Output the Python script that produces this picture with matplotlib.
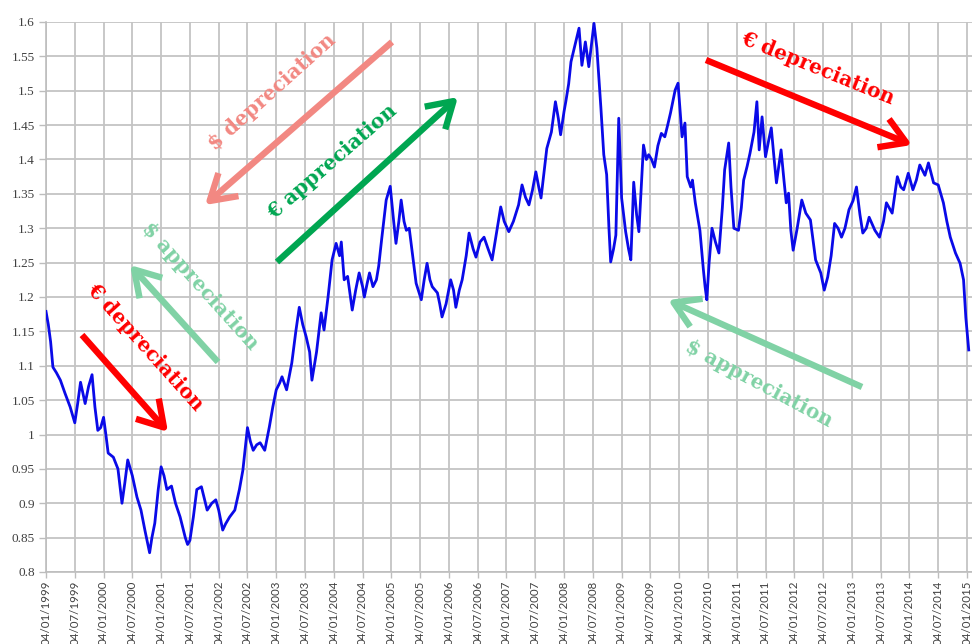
import numpy as np
import matplotlib
matplotlib.use("Agg")
import matplotlib.pyplot as plt

# ---- data (decimal years, EUR/USD) ----
dates = [
    1999.00, 1999.04, 1999.08, 1999.12, 1999.18, 1999.25, 1999.33, 1999.42, 1999.50, 1999.55,
    1999.60, 1999.68, 1999.74, 1999.80, 1999.85, 1999.90, 1999.95, 2000.00, 2000.04, 2000.08,
    2000.17, 2000.25, 2000.32, 2000.37, 2000.42, 2000.50, 2000.58, 2000.65, 2000.72, 2000.80,
    2000.84, 2000.89, 2000.95, 2001.00, 2001.05, 2001.10, 2001.18, 2001.25, 2001.33, 2001.42,
    2001.46, 2001.50, 2001.56, 2001.62, 2001.70, 2001.80, 2001.88, 2001.95, 2002.00, 2002.07,
    2002.12, 2002.19, 2002.28, 2002.36, 2002.42, 2002.50, 2002.55, 2002.60, 2002.66, 2002.72,
    2002.80, 2002.88, 2002.94, 2003.00, 2003.06, 2003.10, 2003.18, 2003.27, 2003.34, 2003.40,
    2003.46, 2003.52, 2003.58, 2003.62, 2003.70, 2003.78, 2003.83, 2003.90, 2003.97, 2004.04,
    2004.10, 2004.13, 2004.18, 2004.24, 2004.32, 2004.38, 2004.44, 2004.50, 2004.53, 2004.58,
    2004.62, 2004.68, 2004.74, 2004.78, 2004.83, 2004.91, 2004.98, 2005.04, 2005.08, 2005.13,
    2005.17, 2005.22, 2005.26, 2005.31, 2005.37, 2005.43, 2005.52, 2005.57, 2005.62, 2005.67,
    2005.71, 2005.80, 2005.84, 2005.88, 2005.95, 2006.03, 2006.08, 2006.12, 2006.18, 2006.23,
    2006.30, 2006.35, 2006.42, 2006.47, 2006.54, 2006.61, 2006.68, 2006.75, 2006.82, 2006.90,
    2006.96, 2007.04, 2007.12, 2007.21, 2007.27, 2007.33, 2007.39, 2007.45, 2007.51, 2007.56,
    2007.60, 2007.65, 2007.70, 2007.78, 2007.85, 2007.90, 2007.94, 2008.00, 2008.03, 2008.08,
    2008.12, 2008.20, 2008.26, 2008.31, 2008.37, 2008.43, 2008.48, 2008.52, 2008.57, 2008.64,
    2008.69, 2008.74, 2008.78, 2008.81, 2008.86, 2008.90, 2008.95, 2009.00, 2009.07, 2009.12,
    2009.16, 2009.21, 2009.26, 2009.30, 2009.38, 2009.43, 2009.47, 2009.52, 2009.57, 2009.63,
    2009.69, 2009.75, 2009.80, 2009.85, 2009.93, 2009.98, 2010.05, 2010.10, 2010.14, 2010.20,
    2010.23, 2010.28, 2010.36, 2010.42, 2010.45, 2010.48, 2010.52, 2010.57, 2010.63, 2010.69,
    2010.75, 2010.79, 2010.86, 2010.90, 2010.95, 2011.03, 2011.08, 2011.12, 2011.18, 2011.23,
    2011.30, 2011.35, 2011.39, 2011.44, 2011.50, 2011.56, 2011.60, 2011.65, 2011.69, 2011.77,
    2011.82, 2011.86, 2011.90, 2011.94, 2011.98, 2012.05, 2012.13, 2012.20, 2012.28, 2012.37,
    2012.46, 2012.52, 2012.58, 2012.64, 2012.70, 2012.76, 2012.82, 2012.88, 2012.95, 2013.02,
    2013.08, 2013.14, 2013.19, 2013.25, 2013.30, 2013.40, 2013.48, 2013.55, 2013.60, 2013.70,
    2013.79, 2013.85, 2013.90, 2013.98, 2014.06, 2014.12, 2014.18, 2014.27, 2014.33, 2014.42,
    2014.50, 2014.59, 2014.65, 2014.71, 2014.80, 2014.88, 2014.94, 2014.98, 2015.03,
]
eurusd = [
    1.179, 1.160, 1.135, 1.098, 1.090, 1.079, 1.060, 1.040, 1.017, 1.045,
    1.076, 1.045, 1.070, 1.087, 1.040, 1.006, 1.010, 1.025, 1.000, 0.973,
    0.967, 0.950, 0.900, 0.930, 0.963, 0.940, 0.909, 0.890, 0.860, 0.828,
    0.850, 0.871, 0.920, 0.953, 0.940, 0.920, 0.925, 0.900, 0.880, 0.850,
    0.840, 0.846, 0.880, 0.920, 0.924, 0.890, 0.900, 0.905, 0.890, 0.861,
    0.870, 0.880, 0.890, 0.920, 0.948, 1.010, 0.990, 0.977, 0.985, 0.988,
    0.977, 1.011, 1.040, 1.065, 1.075, 1.084, 1.065, 1.104, 1.150, 1.185,
    1.160, 1.142, 1.120, 1.079, 1.120, 1.177, 1.152, 1.200, 1.254, 1.278,
    1.260, 1.280, 1.225, 1.230, 1.181, 1.210, 1.235, 1.215, 1.200, 1.220,
    1.235, 1.215, 1.225, 1.245, 1.283, 1.341, 1.361, 1.310, 1.278, 1.310,
    1.341, 1.310, 1.297, 1.300, 1.260, 1.220, 1.196, 1.225, 1.249, 1.225,
    1.215, 1.206, 1.190, 1.171, 1.190, 1.225, 1.210, 1.185, 1.210, 1.225,
    1.260, 1.293, 1.270, 1.258, 1.280, 1.287, 1.270, 1.254, 1.290, 1.331,
    1.310, 1.295, 1.310, 1.334, 1.363, 1.345, 1.334, 1.355, 1.382, 1.360,
    1.344, 1.380, 1.416, 1.440, 1.484, 1.460, 1.436, 1.470, 1.484, 1.510,
    1.542, 1.570, 1.591, 1.537, 1.571, 1.535, 1.570, 1.598, 1.562, 1.475,
    1.407, 1.378, 1.300, 1.251, 1.270, 1.290, 1.460, 1.344, 1.295, 1.270,
    1.254, 1.367, 1.320, 1.295, 1.421, 1.400, 1.407, 1.400, 1.389, 1.420,
    1.438, 1.433, 1.450, 1.468, 1.501, 1.511, 1.433, 1.453, 1.375, 1.360,
    1.370, 1.337, 1.297, 1.240, 1.215, 1.196, 1.250, 1.300, 1.280, 1.264,
    1.330, 1.385, 1.424, 1.360, 1.300, 1.297, 1.330, 1.370, 1.390, 1.409,
    1.440, 1.484, 1.414, 1.462, 1.404, 1.430, 1.446, 1.400, 1.366, 1.414,
    1.370, 1.337, 1.351, 1.297, 1.268, 1.300, 1.341, 1.322, 1.312, 1.254,
    1.235, 1.210, 1.229, 1.260, 1.307, 1.300, 1.287, 1.300, 1.327, 1.340,
    1.360, 1.320, 1.293, 1.300, 1.316, 1.297, 1.287, 1.310, 1.337, 1.322,
    1.375, 1.360, 1.356, 1.380, 1.356, 1.370, 1.392, 1.377, 1.395, 1.366,
    1.363, 1.337, 1.310, 1.287, 1.264, 1.249, 1.225, 1.170, 1.123,
]

x_tick_pos = [1999 + 0.5 * k for k in range(33)]
x_tick_labels = []
for k in range(33):
    yr = 1999 + k // 2
    x_tick_labels.append(("04/01/%d" if k % 2 == 0 else "04/07/%d") % yr)

y_tick_pos = [0.8 + 0.05 * k for k in range(17)]
y_tick_labels = ["0.8", "0.85", "0.9", "0.95", "1", "1.05", "1.1", "1.15", "1.2",
                 "1.25", "1.3", "1.35", "1.4", "1.45", "1.5", "1.55", "1.6"]

W, H = 972, 644
fig = plt.figure(figsize=(W / 100, H / 100), dpi=100)
ax = fig.add_axes([46 / W, 1 - 572 / H, (W - 46) / W, 550 / H])

ax.plot(dates, eurusd, color="#0A0AE8", lw=2.0, solid_joinstyle="round", zorder=3)

ax.set_xlim(1999.0, 2015.087)
ax.set_ylim(0.8, 1.6)
ax.set_xticks(x_tick_pos)
ax.set_xticklabels(x_tick_labels, rotation=90, fontsize=8.3, family="Lato", color="#404040")
ax.set_yticks(y_tick_pos)
ax.set_yticklabels(y_tick_labels, fontsize=9.5, family="Liberation Serif", color="#404040")
ax.grid(True, color="#c4c4c4", lw=1.3, zorder=0)
ax.set_axisbelow(True)
for s in ("top", "right"):
    ax.spines[s].set_visible(False)
for s in ("left", "bottom"):
    ax.spines[s].set_color("#bdbdbd")
    ax.spines[s].set_linewidth(1.2)
ax.tick_params(axis="both", length=5, width=1.0, color="#bdbdbd", pad=3)
ax.tick_params(axis="x", length=4, pad=2)


def fp(x, y):
    return (x / W, 1 - y / H)


arrows = [
    ((82, 335), (168, 432), "#FF0000"),
    ((218, 362), (130, 265), "#80D2A5"),
    ((392, 42), (205, 205), "#F28882"),
    ((277, 262), (458, 97), "#00A651"),
    ((706, 60), (912, 145), "#FF0000"),
    ((862, 387), (668, 300), "#80D2A5"),
]
for start, end, col in arrows:
    ax.annotate("", xy=fp(*end), xytext=fp(*start), xycoords="figure fraction",
                textcoords="figure fraction",
                arrowprops=dict(arrowstyle="->,head_length=0.9,head_width=0.55", lw=4.6,
                                color=col, shrinkA=0, shrinkB=0, mutation_scale=20,
                                capstyle="butt"))

texts = [
    ("€ depreciation", (145, 347), -48, "#FF0000"),
    ("$ appreciation", (200, 286), -48, "#80D2A5"),
    ("$ depreciation", (272, 92), 42, "#F28882"),
    ("€ appreciation", (332, 162), 41, "#00A651"),
    ("€ depreciation", (818, 68), -22, "#FF0000"),
    ("$ appreciation", (759, 384), -28, "#80D2A5"),
]
for s, (x, y), rot, col in texts:
    fig.text(*fp(x, y), s, rotation=rot, rotation_mode="anchor", ha="center", va="center",
             fontsize=14.5, fontweight="bold", family="DejaVu Serif", color=col)

fig.savefig("out.png", dpi=100)
